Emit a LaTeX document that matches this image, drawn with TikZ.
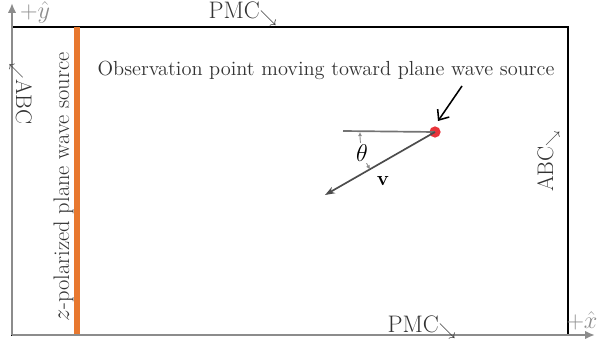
\documentclass[tikz,border=0pt]{standalone}
\usetikzlibrary{arrows.meta}
\definecolor{srcorange}{HTML}{E8782F}
\definecolor{axisgray}{HTML}{8C8C8C}
\definecolor{labelgray}{HTML}{333333}
\definecolor{dotred}{HTML}{E8333A}
\tikzset{
  lbl/.style={text=labelgray, font=\fontsize{16}{18}\selectfont, inner sep=0pt},
  bndlbl/.style={lbl, font=\fontsize{17}{19}\selectfont},
  axislbl/.style={text=axisgray, font=\fontsize{17}{19}\selectfont, inner sep=0pt},
  axis/.style={axisgray, line width=1.4pt, -{Latex[length=7pt,width=6pt]}},
}
\begin{document}
\begin{tikzpicture}[x=0.025cm, y=-0.025cm]
    \useasboundingbox (0,0) rectangle (597,347);

    % domain corners
    \coordinate (tl) at (12,27);
    \coordinate (br) at (568,335);
    \coordinate (origin) at (12,335);

    % domain boundary
    \draw[black, line width=1.4pt] (tl) rectangle (br);

    % plane wave source
    \draw[srcorange, line width=3.6pt] (77,27) -- (77,335);
    \node[lbl, rotate=90, anchor=base] (srclbl) at (69,187) {$z$-polarized plane wave source};

    % axes
    \coordinate (yend) at (12,3);
    \coordinate (xend) at (595,335);
    \draw[axis] (origin) -- (yend);
    \draw[axis] (origin) -- (xend);
    \node[axislbl] (ylbl) at (35,12) {$+\hat{y}$};
    \node[axislbl] (xlbl) at (582,321) {$+\hat{x}$};

    % boundary labels
    \node[bndlbl, anchor=base] (pmctop) at (243,19) {PMC$_{\searrow}$};
    \node[bndlbl, anchor=base] (pmcbot) at (422,332) {PMC$_{\searrow}$};
    \node[lbl, anchor=base, rotate=-90] (abcleft) at (16,94) {$_{\swarrow}$ABC};
    \node[lbl, anchor=base, rotate=90] (abcright) at (553,161) {ABC$_{\searrow}$};

    % observation point
    \node[lbl, font=\fontsize{14.5}{17}\selectfont, anchor=base] (obslbl) at (326,76) {Observation point moving toward plane wave source};
    \node[circle, fill=dotred, inner sep=0pt, minimum size=8pt] (obs) at (435,132) {};
    \coordinate (href) at (343,131);
    \coordinate (vtip) at (325,195);
    \coordinate (ptrtail) at (462,86);
    \coordinate (ptrtip) at (438,121);
    \draw[black!55, line width=1.2pt] (obs.center) -- (href);
    \draw[black!70, line width=1.2pt, -{Stealth[length=7pt,width=5pt]}] (obs.center) -- (vtip);
    \draw[black, line width=1.1pt, -{Straight Barb[length=6pt,width=10pt]}] (ptrtail) -- (ptrtip);
    \draw[black!45, line width=0.6pt, {Latex[length=3pt,width=3pt]}-{Latex[length=3pt,width=3pt]}]
        (obs.center) ++(180:75) arc[start angle=180, end angle=150, radius=75];
    \node[fill=white, inner sep=1pt, font=\fontsize{19}{21}\selectfont] (theta) at (362,153) {$\theta$};
    \node[font=\fontsize{14}{16}\selectfont] (vlbl) at (383,181) {$\mathbf{v}$};
\end{tikzpicture}
\end{document}
